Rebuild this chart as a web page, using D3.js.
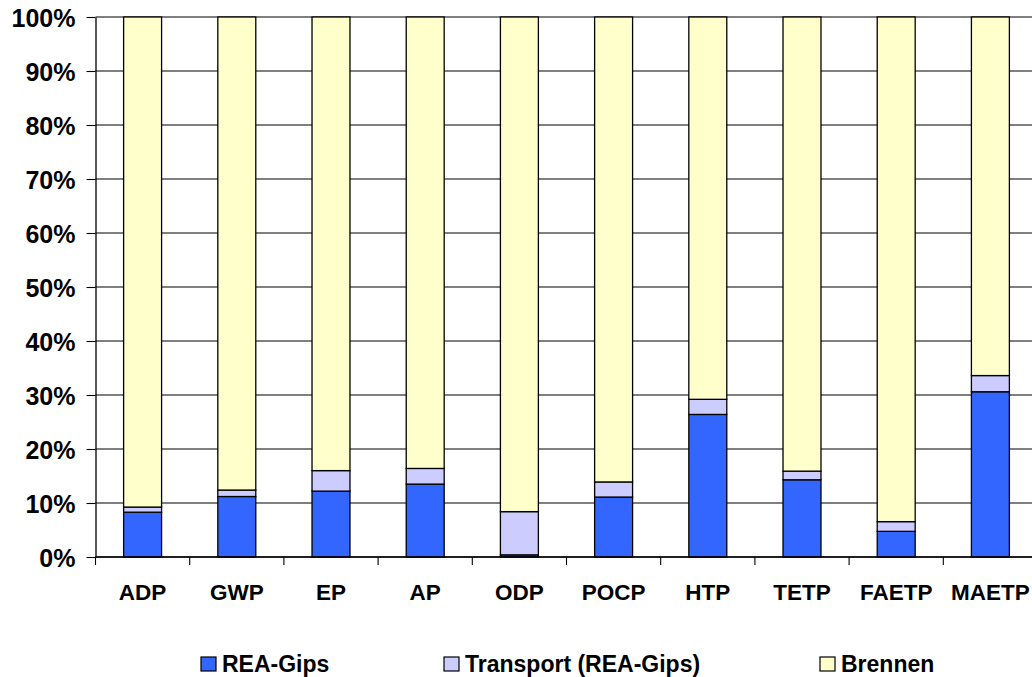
<!DOCTYPE html>
<html>
<head>
<meta charset="utf-8">
<script src="https://cdn.jsdelivr.net/npm/d3@7"></script>
<style>
  html, body { margin: 0; padding: 0; background: #fff; }
  svg { display: block; }
  text { font-family: "Liberation Sans", Arial, sans-serif; font-weight: bold; fill: #000; }
</style>
</head>
<body>
<svg id="chart" width="1032" height="677"></svg>
<script>
// Impact categories (x axis)
const categories = ["ADP", "GWP", "EP", "AP", "ODP", "POCP", "HTP", "TETP", "FAETP", "MAETP"];

// Share of each life-cycle stage, in percent
const reaGips   = [8.3, 11.2, 12.2, 13.5, 0.4, 11.1, 26.4, 14.3, 4.75, 30.6];
const transport = [0.95, 1.2, 3.8, 2.9, 8.0, 2.8, 2.8, 1.6, 1.8, 3.0];
const brennen   = [90.75, 87.6, 84.0, 83.6, 91.6, 86.1, 70.8, 84.1, 93.45, 66.4];

const seriesNames = ["REA-Gips", "Transport (REA-Gips)", "Brennen"];
const seriesColors = ["#3366FF", "#CCCCFF", "#FFFFCC"];

const yTicks = [0, 10, 20, 30, 40, 50, 60, 70, 80, 90, 100];

const rows = categories.map((c, i) => ({
  cat: c,
  "REA-Gips": reaGips[i],
  "Transport (REA-Gips)": transport[i],
  "Brennen": brennen[i]
}));

const svg = d3.select("#chart");

const plot = { left: 95.5, top: 17, right: 1037.5, bottom: 557 };

const x = d3.scaleBand()
  .domain(categories)
  .range([plot.left, plot.right])
  .paddingInner(0.597)
  .paddingOuter(0.2985);

const y = d3.scaleLinear().domain([0, 100]).range([plot.bottom, plot.top]);

const color = d3.scaleOrdinal().domain(seriesNames).range(seriesColors);

// Horizontal gridlines
svg.append("g")
  .selectAll("line")
  .data(yTicks)
  .join("line")
  .attr("x1", plot.left)
  .attr("x2", 1032)
  .attr("y1", d => y(d))
  .attr("y2", d => y(d))
  .attr("stroke", "#000")
  .attr("stroke-width", 1.1);

// Stacked bars
const stack = d3.stack().keys(seriesNames);
const layers = stack(rows);

svg.append("g")
  .selectAll("g")
  .data(layers)
  .join("g")
  .attr("fill", d => color(d.key))
  .selectAll("rect")
  .data(d => d)
  .join("rect")
  .attr("x", d => x(d.data.cat))
  .attr("width", x.bandwidth())
  .attr("y", d => y(d[1]))
  .attr("height", d => y(d[0]) - y(d[1]))
  .attr("stroke", "#000")
  .attr("stroke-width", 1.3);

// Y axis
const yAxis = svg.append("g")
  .attr("transform", `translate(${plot.left},0)`)
  .call(d3.axisLeft(y).tickValues(yTicks).tickFormat(d => d + "%").tickSize(9).tickSizeOuter(0).tickPadding(11));
yAxis.select(".domain").attr("stroke", "#000").attr("stroke-width", 1.3);
yAxis.selectAll(".tick line").attr("stroke", "#000").attr("stroke-width", 1.1);
yAxis.selectAll(".tick text")
  .attr("font-size", 25)
  .attr("font-family", "Liberation Sans, Arial, sans-serif")
  .attr("font-weight", "bold")
  .attr("dy", "0.36em");

// X axis baseline with ticks at category boundaries
const step = x.step();
const boundaries = d3.range(categories.length + 1).map(i => plot.left + i * step);
const xAxis = svg.append("g");
xAxis.append("line")
  .attr("x1", plot.left).attr("x2", 1032)
  .attr("y1", y(0)).attr("y2", y(0))
  .attr("stroke", "#000").attr("stroke-width", 1.3);
xAxis.selectAll("line.tick")
  .data(boundaries)
  .join("line")
  .attr("class", "tick")
  .attr("x1", d => d).attr("x2", d => d)
  .attr("y1", y(0)).attr("y2", y(0) + 8)
  .attr("stroke", "#000").attr("stroke-width", 1.1);
xAxis.selectAll("text")
  .data(categories)
  .join("text")
  .attr("x", d => x(d) + x.bandwidth() / 2)
  .attr("y", 600)
  .attr("text-anchor", "middle")
  .attr("font-size", 22.5)
  .text(d => d);

// Legend
const legendX = [201, 444, 820];
const legend = svg.append("g")
  .selectAll("g")
  .data(seriesNames)
  .join("g")
  .attr("transform", (d, i) => `translate(${legendX[i]},657)`);
legend.append("rect")
  .attr("width", 15).attr("height", 14)
  .attr("fill", d => color(d))
  .attr("stroke", "#000").attr("stroke-width", 1.2);
legend.append("text")
  .attr("x", 21).attr("y", 15)
  .attr("font-size", 23)
  .text(d => d);
</script>
</body>
</html>
